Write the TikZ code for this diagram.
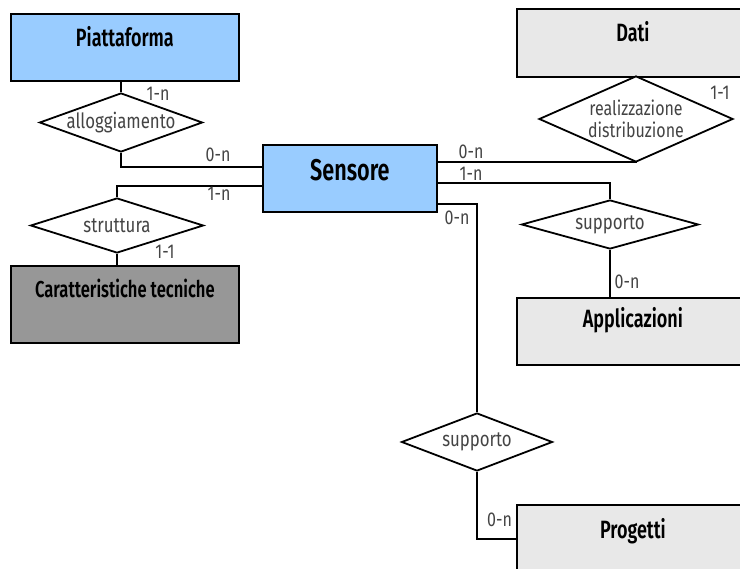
\documentclass[tikz,border=0pt]{standalone}
\usepackage{fontspec}
\setmainfont{Fira Sans}
\newfontfamily\condfont[FakeStretch=0.8]{Fira Sans}
\newfontfamily\condbold[FakeStretch=0.72]{Fira Sans SemiBold}
\usetikzlibrary{shapes.geometric,calc}
\definecolor{entblue}{HTML}{99CCFF}
\definecolor{entgray}{HTML}{979797}
\definecolor{entlight}{HTML}{E8E8E8}
\definecolor{labgray}{HTML}{444444}
\begin{document}
\begin{tikzpicture}[x=1pt,y=-1pt,line width=1.8pt,
  entity/.style={draw=black,rectangle,inner sep=0pt,anchor=north west,
    font=\condbold\fontsize{25}{28}\selectfont,text=black},
  rel/.style={draw=black,diamond,fill=white,inner sep=0pt,aspect=1},
  reltext/.style={font=\condfont\fontsize{21}{23}\selectfont,text=labgray,align=center},
  card/.style={font=\condfont\fontsize{20}{22}\selectfont,text=labgray,inner sep=0pt}]
\useasboundingbox (0,0) rectangle (740,569);

% entities
\node[entity,fill=entblue,minimum width=228pt,text height=33pt,text depth=34pt] (piatt) at (10,13) {Piattaforma};
\node[entity,fill=entblue,minimum width=174pt,text height=36pt,text depth=31pt,font=\condbold\fontsize{30}{32}\selectfont] (sens) at (262,144) {Sensore};
\node[entity,fill=entgray,minimum width=228pt,text height=32pt,text depth=45pt,font=\condbold\fontsize{23}{25}\selectfont] (caratt) at (10,265) {Caratteristiche tecniche};
\node[entity,fill=entlight,minimum width=232pt,text height=33pt,text depth=35pt] (dati) at (516,8) {Dati};
\node[entity,fill=entlight,minimum width=232pt,text height=30pt,text depth=37pt] (appl) at (516,297) {Applicazioni};
\node[entity,fill=entlight,minimum width=232pt,text height=34pt,text depth=50pt] (prog) at (516,504) {Progetti};

% relationships
\node[rel,minimum width=163pt,minimum height=59pt,label={[reltext]center:alloggiamento}] (allog) at (121,122.5) {};
\node[rel,minimum width=173pt,minimum height=55pt,label={[reltext]center:struttura}] (strutt) at (117,225.5) {};
\node[rel,minimum width=194pt,minimum height=86pt,label={[reltext,font=\condfont\fontsize{20}{22}\selectfont]center:realizzazione\\distribuzione}] (realiz) at (636,119) {};
\node[rel,minimum width=177pt,minimum height=49pt,label={[reltext]center:supporto}] (suppA) at (610,224.5) {};
\node[rel,minimum width=151pt,minimum height=58pt,label={[reltext]center:supporto}] (suppB) at (477,442) {};

% attachment points on the Sensore box
\coordinate (sw1) at (262,167);
\coordinate (sw2) at (262,186);
\coordinate (se1) at (436,162);
\coordinate (se2) at (436,183);
\coordinate (se3) at (436,204);

% connectors
\draw (allog.north |- piatt.south) -- (allog.north);
\draw (allog.south) |- (sw1);
\draw (strutt.north) |- (sw2);
\draw (strutt.south) -- (strutt.south |- caratt.north);
\draw (se1) -- (se1 -| realiz.south) -- (realiz.south);
\draw (se2) -| (suppA.north);
\draw (suppA.south) -- (suppA.south |- appl.north);
\draw (se3) -| (suppB.north);
\draw (suppB.south) |- ($(prog.north west)+(0,35)$);

% cardinalities
\node[card] (c1) at (158,94) {1-n};
\node[card] (c2) at (218,155) {0-n};
\node[card] (c3) at (219,194) {1-n};
\node[card] (c4) at (165,252) {1-1};
\node[card] (c5) at (720,93) {1-1};
\node[card] (c6) at (471,152) {0-n};
\node[card] (c7) at (471,174) {1-n};
\node[card] (c8) at (457,218) {0-n};
\node[card] (c9) at (627,282) {0-n};
\node[card] (c10) at (499.5,520) {0-n};
\end{tikzpicture}
\end{document}
